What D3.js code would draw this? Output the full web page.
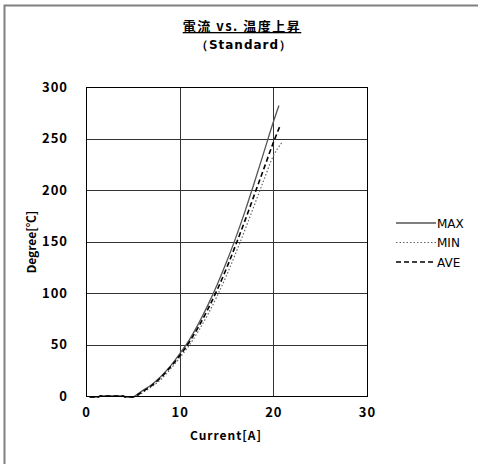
<!DOCTYPE html>
<html lang="ja">
<head>
<meta charset="UTF-8">
<title>電流 vs. 温度上昇</title>
<script src="https://d3js.org/d3.v7.min.js"></script>
<style>
  body { margin: 0; background: #fff; }
  text { font-family: "Noto Sans CJK JP", "DejaVu Sans", sans-serif; font-weight: bold; fill: #000; }
</style>
</head>
<body>
<div id="chart"></div>
<script>
// data
const maxX = [0.4, 1.3, 1.5, 4.0, 4.2, 5.0, 5.2, 6, 7, 8, 9, 10, 11, 12, 13, 14, 15, 16, 17, 18, 19, 20, 20.6];
const maxY = [-1, -1, 0, 0, -1, -1, 0, 5, 11, 19, 29, 41, 54, 70, 88, 108, 130, 154, 180, 208, 237, 266, 282];
const aveX = [0.4, 1.3, 1.5, 4.0, 4.2, 5.0, 5.3, 6, 7, 8, 9, 10, 11, 12, 13, 14, 15, 16, 17, 18, 19, 20, 20.7];
const aveY = [-1, -1, 0, 0, -1, -1, 0, 4, 10, 18, 28, 39, 52, 67, 84, 103, 124, 147, 171, 196, 221, 246, 262];
const minX = [0.4, 1.3, 1.5, 4.0, 4.2, 5.0, 5.4, 6, 7, 8, 9, 10, 11, 12, 13, 14, 15, 16, 17, 18, 19, 20, 21];
const minY = [-1, -1, 0, 0, -1, -1, 0, 3, 9, 16, 26, 37, 49, 63, 79, 97, 117, 139, 162, 186, 210, 233, 247];
const xTicks = [0, 10, 20, 30];
const yTicks = [0, 50, 100, 150, 200, 250, 300];

const W = 478, H = 464;
const plot = { left: 86, right: 367, top: 87, bottom: 396 };

const svg = d3.select("#chart").append("svg")
    .attr("width", W).attr("height", H);

// outer frame
svg.append("rect")
    .attr("x", 4.5).attr("y", 5.5).attr("width", 480).attr("height", 470)
    .attr("fill", "none").attr("stroke", "#808080").attr("stroke-width", 2);

const x = d3.scaleLinear().domain([0, 30]).range([plot.left, plot.right]);
const y = d3.scaleLinear().domain([0, 300]).range([plot.bottom, plot.top]);

// grid
svg.append("g").selectAll("line").data(xTicks.slice(1, -1)).enter().append("line")
    .attr("x1", d => Math.round(x(d)) + 0.5).attr("x2", d => Math.round(x(d)) + 0.5)
    .attr("y1", plot.top).attr("y2", plot.bottom)
    .attr("stroke", "#333").attr("stroke-width", 1);
svg.append("g").selectAll("line").data(yTicks.slice(1, -1)).enter().append("line")
    .attr("y1", d => Math.round(y(d)) + 0.5).attr("y2", d => Math.round(y(d)) + 0.5)
    .attr("x1", plot.left).attr("x2", plot.right)
    .attr("stroke", "#333").attr("stroke-width", 1);

// axes (labels only, the box is drawn separately)
const xAxis = svg.append("g")
    .attr("transform", `translate(0,${plot.bottom})`)
    .call(d3.axisBottom(x).tickValues(xTicks).tickSize(0).tickPadding(12));
const yAxis = svg.append("g")
    .attr("transform", `translate(${plot.left},0)`)
    .call(d3.axisLeft(y).tickValues(yTicks).tickSize(0).tickPadding(18));
[xAxis, yAxis].forEach(a => {
    a.select(".domain").remove();
    a.selectAll("text").style("font-size", "13px")
        .style("font-family", "'Noto Sans CJK JP', sans-serif").style("font-weight", "bold")
        .style("letter-spacing", "1px");
});

// series
const series = [
    { name: "MAX", xs: maxX, ys: maxY, color: "#555", width: 1.3, dash: null },
    { name: "MIN", xs: minX, ys: minY, color: "#666", width: 1.2, dash: "1.5,2" },
    { name: "AVE", xs: aveX, ys: aveY, color: "#000", width: 1.6, dash: "5,3" }
];

const line = d3.line().x(d => x(d[0])).y(d => y(d[1])).curve(d3.curveMonotoneX);

series.forEach(s => {
    svg.append("path")
        .datum(d3.zip(s.xs, s.ys))
        .attr("d", line)
        .attr("fill", "none")
        .attr("stroke", s.color)
        .attr("stroke-width", s.width)
        .attr("stroke-dasharray", s.dash);
});

// plot box
svg.append("rect")
    .attr("x", plot.left + 0.5).attr("y", plot.top + 0.5)
    .attr("width", plot.right - plot.left).attr("height", plot.bottom - plot.top)
    .attr("fill", "none").attr("stroke", "#000").attr("stroke-width", 1);

// legend
const leg = svg.append("g");
series.forEach((s, i) => {
    const ly = 223 + i * 19.5;
    leg.append("line")
        .attr("x1", 396).attr("x2", 436).attr("y1", ly).attr("y2", ly)
        .attr("stroke", s.color).attr("stroke-width", s.width)
        .attr("stroke-dasharray", s.dash);
    leg.append("text")
        .attr("x", 437).attr("y", ly + 4.5)
        .style("font-size", "12px")
        .style("font-family", "'DejaVu Sans', sans-serif")
        .style("font-weight", "normal")
        .text(s.name);
});

// titles
svg.append("text")
    .attr("x", 242).attr("y", 31)
    .attr("text-anchor", "middle")
    .style("font-size", "13px")
    .style("letter-spacing", "1.5px")
    .style("text-decoration", "underline")
    .text("電流 vs. 温度上昇");
svg.append("text")
    .attr("x", 244).attr("y", 49)
    .attr("text-anchor", "middle")
    .style("font-size", "12px")
    .style("letter-spacing", "1px")
    .style("font-family", "'DejaVu Sans', sans-serif")
    .text("（Standard）");

svg.append("text")
    .attr("x", 226).attr("y", 440)
    .attr("text-anchor", "middle")
    .style("font-size", "12px")
    .style("letter-spacing", "1px")
    .text("Current[A]");

svg.append("text")
    .attr("transform", "translate(36,242) rotate(-90)")
    .attr("text-anchor", "middle")
    .style("font-size", "12px")
    .text("Degree[℃]");
</script>
</body>
</html>
